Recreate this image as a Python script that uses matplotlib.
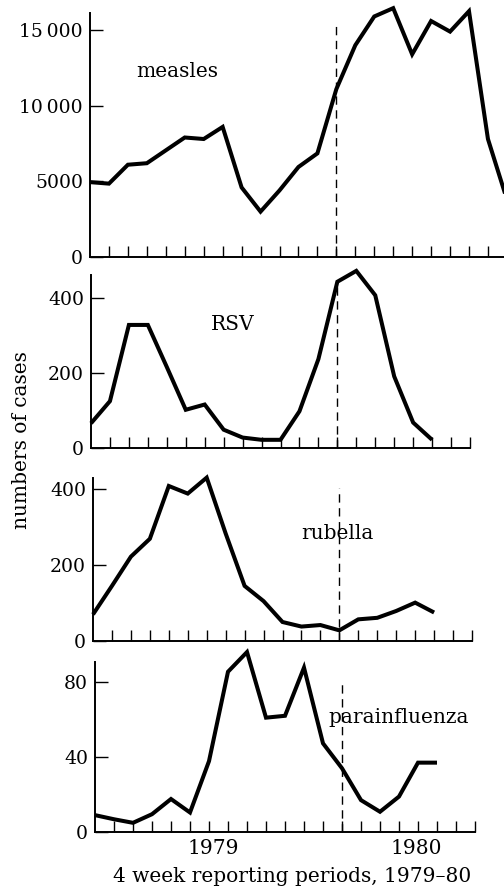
import matplotlib
matplotlib.use("Agg")
import matplotlib.pyplot as plt
import numpy as np

plt.rcParams["font.family"] = ["DejaVu Serif"]

# 4-week reporting periods, index 0 = first period shown
measles = [4950, 4850, 6100, 6200, 7050, 7900, 7800, 8600, 4600, 3000, 4400,
           5950, 6850, 11100, 14000, 15900, 16450, 13400, 15600, 14900, 16250,
           7800, 3800]
rsv = [65, 124, 327, 327, 215, 101, 115, 48, 27, 21, 21, 97, 236, 442, 471,
       406, 190, 67, 21]
rubella = [70, 145, 222, 269, 408, 388, 430, 283, 145, 105, 50, 38, 42, 28,
           57, 61, 79, 101, 75]
parainfluenza = [9, 6.8, 4.9, 9.5, 17.6, 10.4, 37.8, 85.5, 96, 61, 62, 87.7,
                 47.3, 34, 17, 10.8, 18.9, 37, 37]

names = ["measles", "RSV", "rubella", "parainfluenza"]
series = [measles, rsv, rubella, parainfluenza]
yticks = [[0, 5000, 10000, 15000], [0, 200, 400], [0, 200, 400], [0, 40, 80]]
yticklabels = [["0", "5000", "10\u2009000", "15\u2009000"],
               ["0", "200", "400"], ["0", "200", "400"], ["0", "40", "80"]]
ylims = [16150, 460, 429, 90.7]
xlims = [23, 20, 20, 20]
nticks = [22, 20, 20, 20]
dash_ranges = [(0, 15300), (0, 442), (0, 403), (0, 81)]
label_pos = [(4.6, 12230), (7.5, 327), (12.9, 282), (16.0, 61.3)]
marker_period = 13
year_labels = ["1979", "1980"]
year_pos = [6.2, 16.9]

W, H = 504, 892
# pixel frames: left, bottom, top, px per period
frames = [(90, 257, 12.7, 18.95), (91, 447.7, 275, 18.95),
          (93, 641, 478, 18.95), (95, 832, 662, 19.0)]

fig = plt.figure(figsize=(W / 100, H / 100), dpi=100)

axes = []
for i, (left, bottom, top, step) in enumerate(frames):
    width = xlims[i] * step
    ax = fig.add_axes([left / W, 1 - bottom / H, width / W, (bottom - top) / H])
    axes.append(ax)
    x = np.arange(len(series[i]))
    ax.plot(x, series[i], color="black", lw=2.9, clip_on=False,
            solid_joinstyle="miter", solid_capstyle="butt")
    ax.plot([marker_period, marker_period], dash_ranges[i], color="black",
            lw=1.0, dashes=(6, 4))
    ax.set_xlim(0, xlims[i])
    ax.set_ylim(0, ylims[i])
    ax.set_xticks(np.arange(1, nticks[i] + 1))
    ax.set_xticklabels([])
    ax.set_yticks(yticks[i])
    ax.set_yticklabels(yticklabels[i])
    ax.tick_params(axis="x", direction="in", length=8, width=1.0)
    ax.tick_params(axis="y", direction="in", length=9, width=1.0, pad=5,
                   labelsize=13.5)
    for s in ["top", "right"]:
        ax.spines[s].set_visible(False)
    for s in ["left", "bottom"]:
        ax.spines[s].set_linewidth(1.4)
    ax.text(label_pos[i][0], label_pos[i][1], names[i], fontsize=14.5,
            ha="center", va="center")

bottom_ax = axes[-1]
for lab, xp in zip(year_labels, year_pos):
    bottom_ax.text(xp, -0.1, lab, transform=bottom_ax.get_xaxis_transform(),
                   ha="center", va="center", fontsize=14.5)
fig.text(292 / W, 1 - 877 / H, "4 week reporting periods, 1979\u201380",
         ha="center", va="center", fontsize=14.5)
fig.text(22 / W, 1 - 440 / H, "numbers of cases", rotation=90,
         ha="center", va="center", fontsize=14.5)

fig.savefig("out.png", dpi=100)
